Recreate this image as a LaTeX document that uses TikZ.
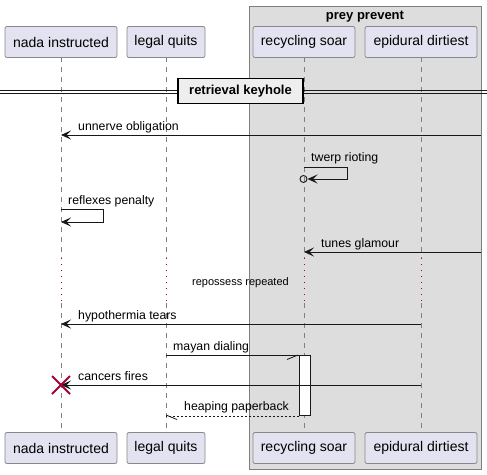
\documentclass[tikz,border=0pt]{standalone}
\usepackage{fontspec}
\setmainfont{Liberation Sans}
\usetikzlibrary{arrows.meta}
\definecolor{partfill}{HTML}{E2E2F0}
\definecolor{partdraw}{HTML}{888888}
\definecolor{grpfill}{HTML}{DDDDDD}
\definecolor{grpdraw}{HTML}{7F7F7F}
\definecolor{lifec}{HTML}{808080}
\definecolor{crim}{HTML}{A80036}
\definecolor{ink}{HTML}{181818}
\definecolor{divfill}{HTML}{EEEEEE}
\tikzset{
  part/.style={draw=partdraw, fill=partfill, rounded corners=2pt, line width=0.8pt,
    minimum height=31pt, inner sep=0pt, font=\fontsize{14}{16}\selectfont, text=black},
  life/.style={draw=lifec, line width=0.7pt, dash pattern=on 5pt off 5pt},
  delay/.style={draw=crim, line width=0.9pt, dash pattern=on 1pt off 5pt},
  msg/.style={draw=ink, line width=0.9pt},
  head/.style={-{Stealth[length=10pt,width=9pt,inset=4.5pt]}},
  lbl/.style={font=\fontsize{12.3}{14}\selectfont, inner sep=0pt, anchor=base west, text=black},
  barb/.style={draw=ink, line width=0.8pt},
}
\begin{document}
\begin{tikzpicture}[x=1pt,y=-1pt]
\useasboundingbox (0,0) rectangle (487,474);
% group
\node[draw=grpdraw, fill=grpfill, line width=1pt, minimum width=232pt, minimum height=463pt, inner sep=0pt, anchor=north west] (grp) at (249,6) {};
\node[font=\bfseries\fontsize{13}{15}\selectfont, inner sep=0pt, anchor=base] (grpt) at (365,19.5) {prey prevent};
% lifelines
\coordinate (la1) at (61,57);  \coordinate (la2) at (61,258);  \coordinate (la3) at (61,303);  \coordinate (la4) at (61,432);
\coordinate (lb1) at (166,57); \coordinate (lb2) at (166,258); \coordinate (lb3) at (166,303); \coordinate (lb4) at (166,432);
\coordinate (lc1) at (304,57); \coordinate (lc2) at (304,258); \coordinate (lc3) at (304,303); \coordinate (lc4) at (304,432);
\coordinate (ld1) at (421,57); \coordinate (ld2) at (421,258); \coordinate (ld3) at (421,303); \coordinate (ld4) at (421,432);
\foreach \p in {a,b,c,d}{
  \draw[life] (l\p1) -- (l\p2);
  \draw[delay] (l\p2) -- (l\p3);
  \draw[life] (l\p3) -- (l\p4);
}
% participants top
\node[part, minimum width=112pt] (nA) at (61,42) {nada instructed};
\node[part, minimum width=78pt] (nB) at (166,42) {legal quits};
\node[part, minimum width=102pt] (nC) at (304,42) {recycling soar};
\node[part, minimum width=112pt] (nD) at (421,42) {epidural dirtiest};
% participants bottom
\node[part, minimum width=112pt] (bA) at (61,448) {nada instructed};
\node[part, minimum width=78pt] (bB) at (166,448) {legal quits};
\node[part, minimum width=102pt] (bC) at (304,448) {recycling soar};
\node[part, minimum width=112pt] (bD) at (421,448) {epidural dirtiest};
% divider
\coordinate (dvl) at (0,91.5); \coordinate (dvr) at (487,91.5);
\draw[draw=ink, line width=0.9pt] ([yshift=-1.5pt]dvl) -- ([yshift=-1.5pt]dvr);
\draw[draw=ink, line width=0.9pt] ([yshift=1.5pt]dvl) -- ([yshift=1.5pt]dvr);
\node[draw=black, fill=divfill, line width=1.8pt, minimum width=125pt, minimum height=25pt, inner sep=0pt,
  font=\bfseries\fontsize{13}{15}\selectfont] (div) at (240.5,91) {retrieval keyhole};
% unnerve obligation
\coordinate (m1s) at (481,135); \coordinate (m1e) at (61,135);
\draw[msg, head] (m1s) -- (m1e);
\node[lbl] (t1) at (78,130.5) {unnerve obligation};
% twerp rioting
\coordinate (m2a) at (304,167); \coordinate (m2b) at (347,167); \coordinate (m2c) at (347,179); \coordinate (m2e) at (307.5,179);
\draw[msg, head] (m2a) -- (m2b) -- (m2c) -- (m2e);
\node[draw=ink, line width=0.9pt, circle, minimum size=7pt, inner sep=0pt] (circ) at (303.5,179) {};
\node[lbl] (t2) at (311,161) {twerp rioting};
% reflexes penalty
\coordinate (m3a) at (61,209); \coordinate (m3b) at (103,209); \coordinate (m3c) at (103,222); \coordinate (m3e) at (61,222);
\draw[msg, head] (m3a) -- (m3b) -- (m3c) -- (m3e);
\node[lbl] (t3) at (68,204) {reflexes penalty};
% tunes glamour
\coordinate (m4s) at (481,252); \coordinate (m4e) at (304,252);
\draw[msg, head] (m4s) -- (m4e);
\node[lbl] (t4) at (321,247.5) {tunes glamour};
% delay text
\node[font=\fontsize{11}{13}\selectfont, inner sep=0pt, anchor=base] (dly) at (240.5,285.5) {repossess repeated};
% hypothermia tears
\coordinate (m5s) at (421,324); \coordinate (m5e) at (61,324);
\draw[msg, head] (m5s) -- (m5e);
\node[lbl] (t5) at (78,319.5) {hypothermia tears};
% activation
\node[draw=ink, fill=white, line width=0.9pt, minimum width=11pt, minimum height=60pt, inner sep=0pt, anchor=north west] (act) at (299,355) {};
% mayan dialing
\coordinate (m6s) at (166,355);
\draw[msg] (m6s) -- (act.north west);
\coordinate (b6) at (287,359.5);
\draw[barb] ([xshift=-1pt]act.north west) -- (b6);
\node[lbl] (t6) at (173,350.5) {mayan dialing};
% cancers fires
\coordinate (m7s) at (421,385); \coordinate (m7e) at (61,385);
\draw[msg, head] (m7s) -- (m7e);
\draw[draw=crim, line width=1.8pt] (52,376) -- (70,394) (52,394) -- (70,376);
\node[lbl] (t7) at (78,380.5) {cancers fires};
% heaping paperback
\draw[msg, line width=0.8pt, dash pattern=on 2pt off 2pt] (act.south west) -- (lb4 |- act.south west);
\coordinate (b8) at (177,419.5);
\draw[barb] (166,415) -- (b8);
\node[lbl] (t8) at (184,410.5) {heaping paperback};
\end{tikzpicture}
\end{document}
